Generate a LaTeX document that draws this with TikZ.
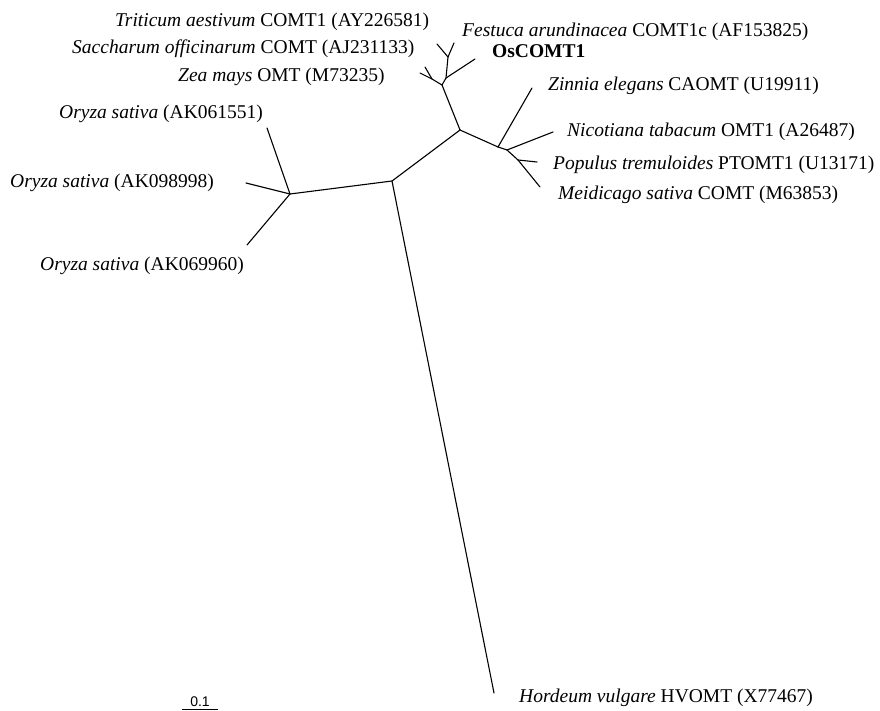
\documentclass[tikz,border=0pt]{standalone}
\usepackage{fontspec}
\setmainfont{Liberation Serif}
\newfontfamily\scalefont{Liberation Sans}
\begin{document}
\begin{tikzpicture}[x=1pt,y=-1pt,
  branch/.style={line width=1.1pt,line cap=round,line join=round},
  lab/.style={anchor=base west,inner sep=0pt,font=\fontsize{19.5}{23}\selectfont}]
\useasboundingbox (0,0) rectangle (880,711);
% internal nodes
\coordinate (R) at (392,181);
\coordinate (O) at (290,194);
\coordinate (N1) at (460,130);
\coordinate (A) at (442,85);
\coordinate (B) at (432,79);
\coordinate (C) at (446,78);
\coordinate (D) at (448,57);
\coordinate (N2) at (498,147);
\coordinate (N3) at (507,150);
\coordinate (N4) at (518,160);
% tips
\coordinate (tOr1) at (267,128);
\coordinate (tOr2) at (246,183);
\coordinate (tOr3) at (247,245);
\coordinate (tHor) at (494,693);
\coordinate (tSac) at (420,73);
\coordinate (tZea) at (425,67);
\coordinate (tTri) at (437,44);
\coordinate (tFes) at (454,43);
\coordinate (tOs) at (475,59);
\coordinate (tZin) at (532,88);
\coordinate (tNic) at (553,132);
\coordinate (tPop) at (537,162);
\coordinate (tMed) at (540,187);
% branches
\draw[branch] (R) -- (O);
\draw[branch] (O) -- (tOr1);
\draw[branch] (O) -- (tOr2);
\draw[branch] (O) -- (tOr3);
\draw[branch] (R) -- (tHor);
\draw[branch] (R) -- (N1);
\draw[branch] (N1) -- (A);
\draw[branch] (A) -- (B);
\draw[branch] (B) -- (tSac);
\draw[branch] (B) -- (tZea);
\draw[branch] (A) -- (C);
\draw[branch] (C) -- (tOs);
\draw[branch] (C) -- (D);
\draw[branch] (D) -- (tTri);
\draw[branch] (D) -- (tFes);
\draw[branch] (N1) -- (N2);
\draw[branch] (N2) -- (tZin);
\draw[branch] (N2) -- (N3);
\draw[branch] (N3) -- (tNic);
\draw[branch] (N3) -- (N4);
\draw[branch] (N4) -- (tPop);
\draw[branch] (N4) -- (tMed);
% labels
\node[lab] (lTri) at (115,27) {\textit{Triticum aestivum} COMT1 (AY226581)};
\node[lab] (lSac) at (72,54) {\textit{Saccharum officinarum} COMT (AJ231133)};
\node[lab] (lZea) at (178,82) {\textit{Zea mays} OMT (M73235)};
\node[lab] (lFes) at (462,37) {\textit{Festuca arundinacea} COMT1c (AF153825)};
\node[lab] (lOs) at (492,58) {\textbf{OsCOMT1}};
\node[lab] (lZin) at (548,91) {\textit{Zinnia elegans} CAOMT (U19911)};
\node[lab] (lNic) at (567,137) {\textit{Nicotiana tabacum} OMT1 (A26487)};
\node[lab] (lPop) at (553,170) {\textit{Populus tremuloides} PTOMT1 (U13171)};
\node[lab] (lMed) at (558,200) {\textit{Meidicago sativa} COMT (M63853)};
\node[lab] (lOr1) at (59,119) {\textit{Oryza sativa} (AK061551)};
\node[lab] (lOr2) at (10,188) {\textit{Oryza sativa} (AK098998)};
\node[lab] (lOr3) at (40,270) {\textit{Oryza sativa} (AK069960)};
\node[lab] (lHor) at (519,702) {\textit{Hordeum vulgare} HVOMT (X77467)};
% scale bar
\coordinate (sb1) at (182,709);
\coordinate (sb2) at (218,709);
\draw[line width=1pt] (sb1) -- (sb2);
\node[anchor=base,inner sep=0pt,font=\scalefont\fontsize{14}{16}\selectfont] (sbl) at (200,706) {0.1};
\end{tikzpicture}
\end{document}
